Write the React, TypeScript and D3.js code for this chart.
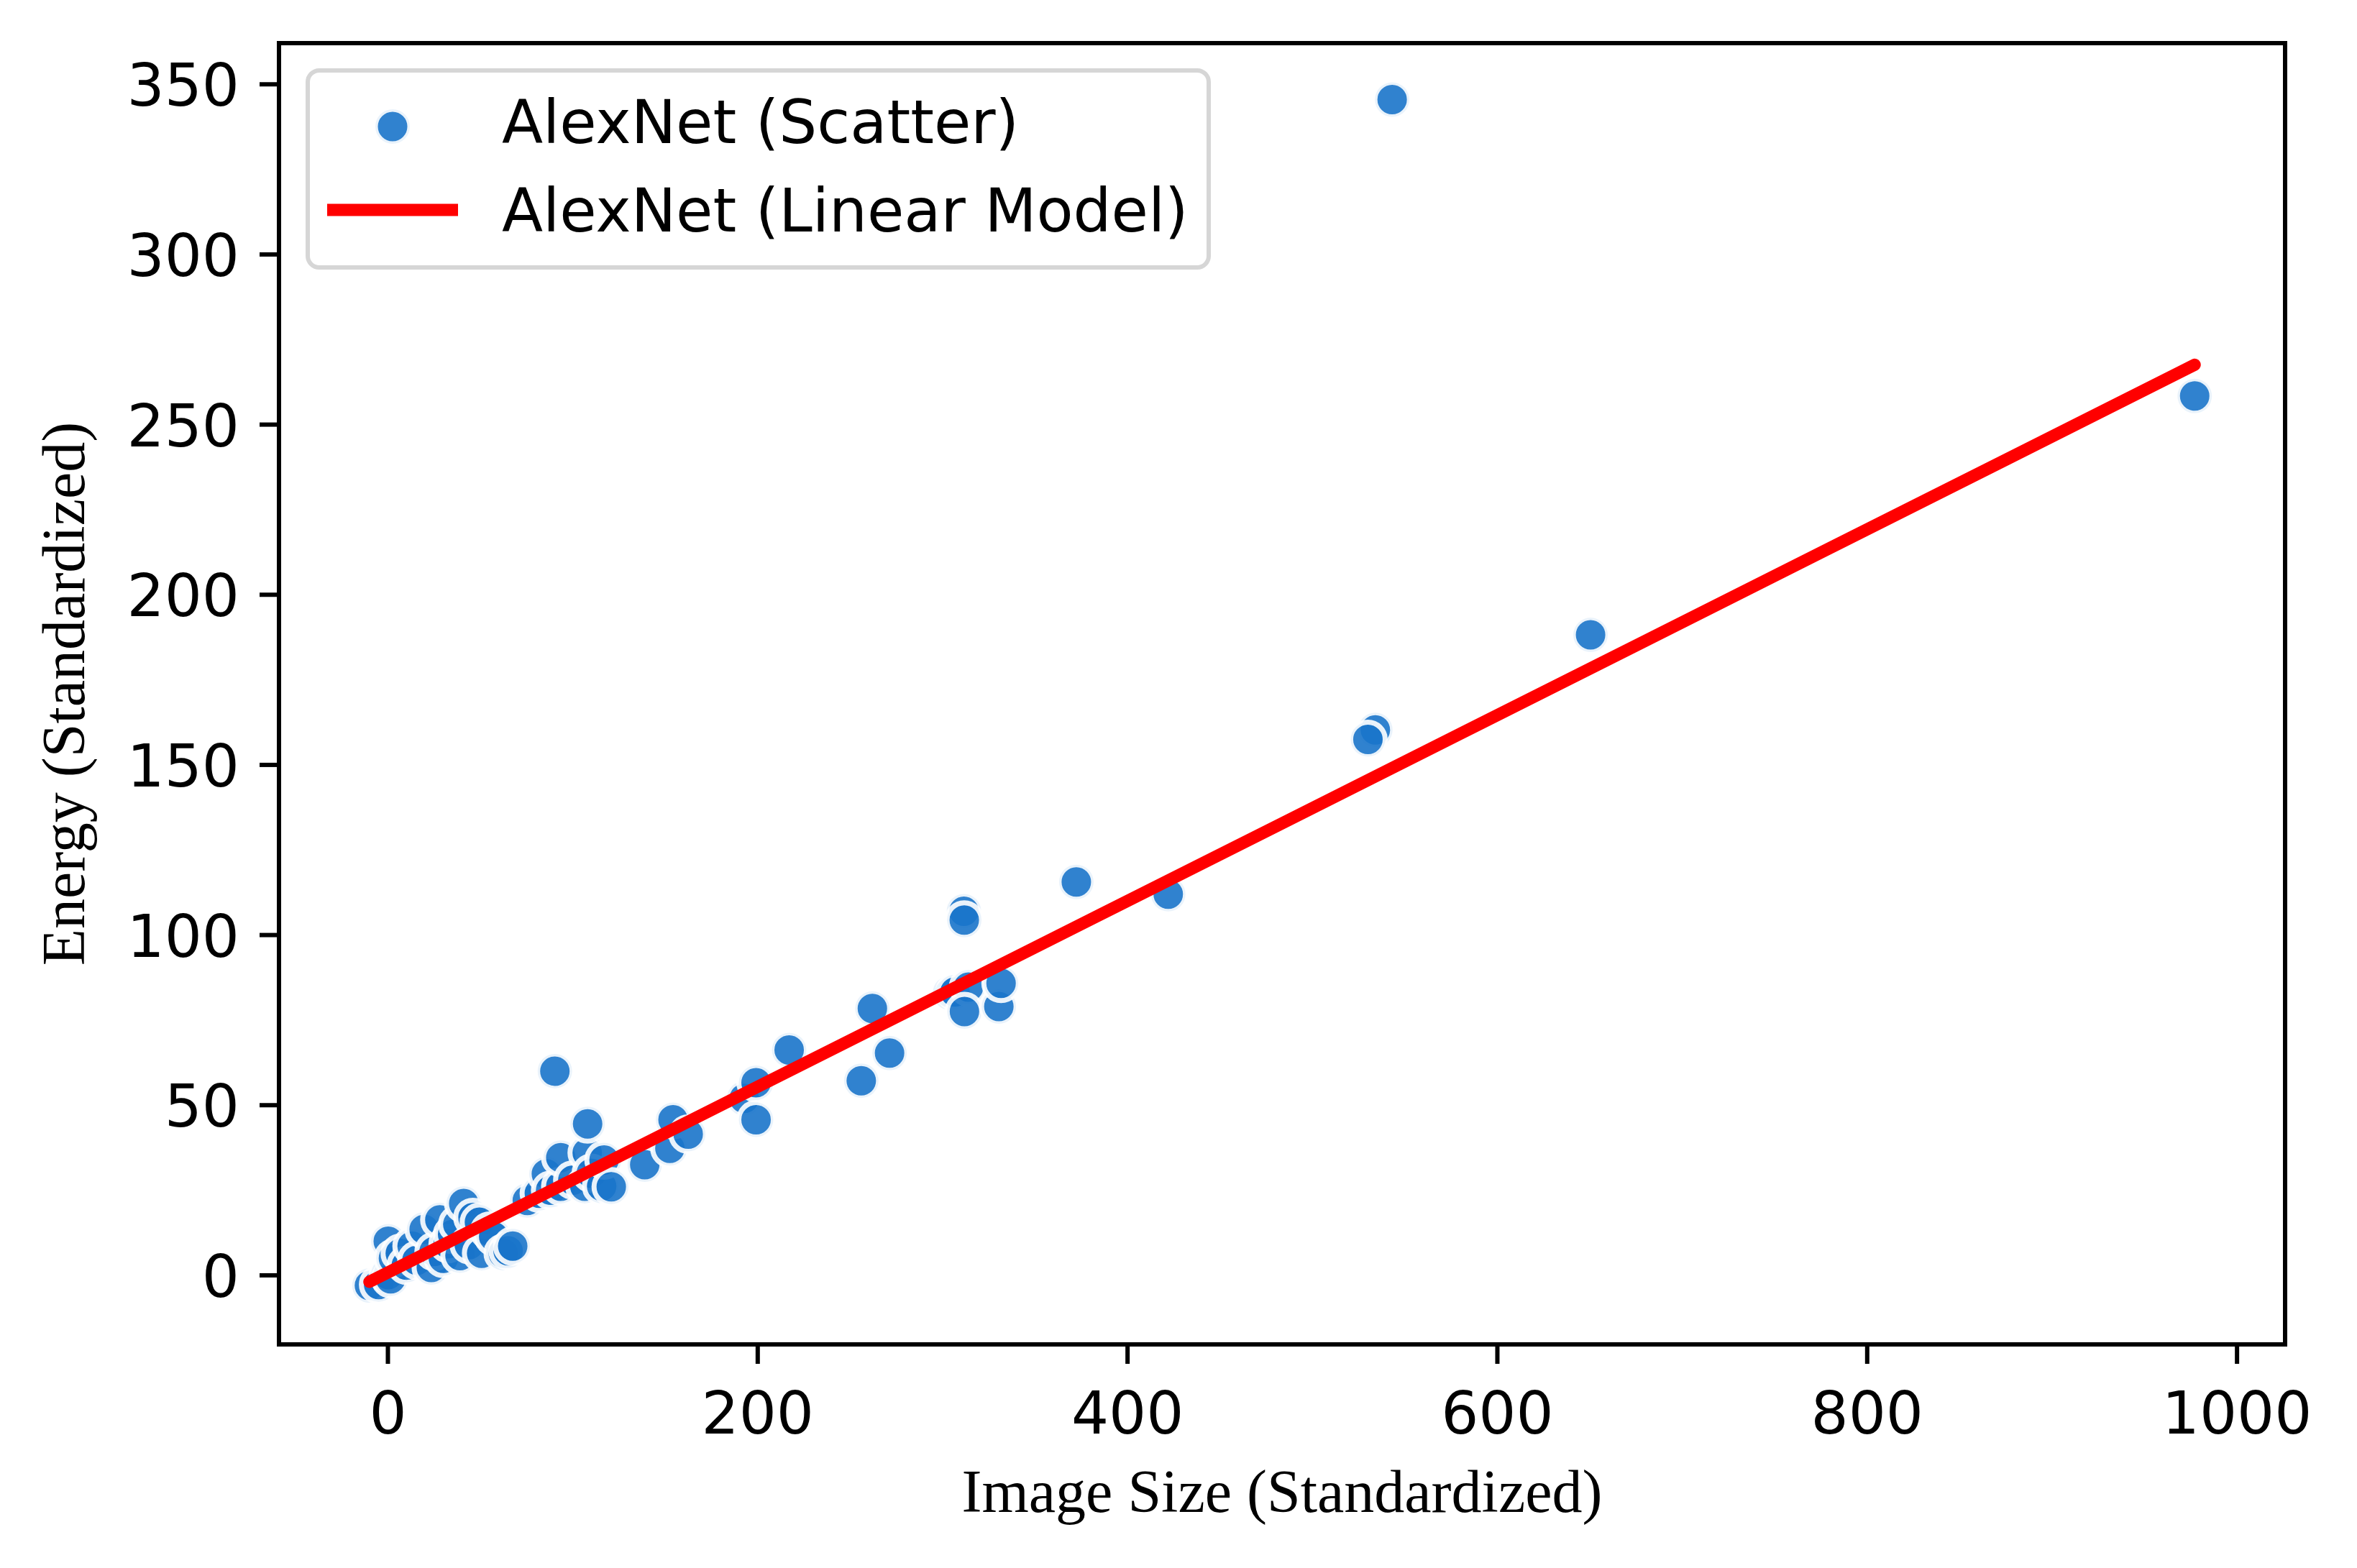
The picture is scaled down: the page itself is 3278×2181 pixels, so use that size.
import { useEffect, useRef } from "react";
import * as d3 from "d3";

// scatter points: [image size, energy]
const scatterX = [
  -10, -5, 0.2, 1.5, 0.2, 3, 6.7, 10, 13.1, 15.7, 19.6, 23.5, 25, 28.1, 30, 32.6, 35, 37.8, 39, 41, 44, 46,
  49.5, 50.7, 55, 57.2, 62.4, 65, 67.5,
  75.4, 81.9, 85.7, 88, 93.5, 93.5, 100, 106.5, 107.8, 110, 115.6, 116.9, 108, 90.3, 120.8, 138.9, 152.5,
  154.2, 162.4,
  192.7, 199.1, 199.1, 217, 256, 262, 271.3, 304, 306.7, 311.5, 311.7, 314, 311.8, 330.4, 331.6, 372.3,
  422, 534, 530, 543.1, 650.4, 977.1,
];
const scatterY = [
  -3, -2.7, 0.2, -1, 10, 5, 6.5, 3, 8.6, 4.4, 13.5, 2.3, 7, 16.3, 5, 9.3, 12, 15, 5.8, 21.1, 9, 17,
  15.6, 6.5, 13, 11.4, 6.5, 7.2, 8.6,
  22, 24.1, 29.8, 25, 26.2, 34.6, 28, 26.2, 36, 30, 26.2, 33.9, 44.5, 60, 26, 32.5, 37.3,
  45.7, 41.5,
  52, 56.6, 45.7, 66.2, 57.2, 78.4, 65.3, 83, 83.3, 107, 104.4, 84.7, 77.5, 79, 85.8, 115.6,
  112, 160.3, 157.5, 345.5, 188.2, 258.4,
];

// fitted linear model
const fitSlope = 0.273;
const fitIntercept = 0.83;
const fitRange = [-10, 977.1];

const xTicks = [0, 200, 400, 600, 800, 1000];
const yTicks = [0, 50, 100, 150, 200, 250, 300, 350];

const legendLabels = ["AlexNet (Scatter)", "AlexNet (Linear Model)"];

const App = () => {
  const chartContainer = useRef(null);

  useEffect(() => {
    const W = 3278;
    const H = 2181;
    const left = 388;
    const right = 3178;
    const top = 60;
    const bottom = 1870;

    const dotFill = "rgb(26,116,202)";
    const tickFont = "'DejaVu Sans', sans-serif";
    const labelFont = "'Liberation Serif', 'Times New Roman', serif";

    const x = d3.scaleLinear().domain([-58.9, 1026.0]).range([left, right]);
    const y = d3.scaleLinear().domain([-20.3, 362.1]).range([bottom, top]);

    d3.select(chartContainer.current).selectAll("*").remove();

    const svg = d3
      .select(chartContainer.current)
      .append("svg")
      .attr("width", W)
      .attr("height", H)
      .style("position", "absolute")
      .style("left", "0px")
      .style("top", "0px")
      .style("background", "#fff");

    svg
      .append("defs")
      .append("clipPath")
      .attr("id", "plot-clip")
      .append("rect")
      .attr("x", left)
      .attr("y", top)
      .attr("width", right - left)
      .attr("height", bottom - top);

    const plot = svg.append("g");

    const points = scatterX.map((v, i) => ({ x: v, y: scatterY[i] }));

    plot
      .append("g")
      .attr("clip-path", "url(#plot-clip)")
      .selectAll("circle")
      .data(points)
      .enter()
      .append("circle")
      .attr("cx", (d) => x(d.x))
      .attr("cy", (d) => y(d.y))
      .attr("r", 24)
      .attr("fill", dotFill)
      .attr("fill-opacity", 0.9)
      .attr("stroke", "#fff")
      .attr("stroke-opacity", 0.9)
      .attr("stroke-width", 7);

    const line = d3
      .line<number>()
      .x((d) => x(d))
      .y((d) => y(fitIntercept + fitSlope * d));

    plot
      .append("path")
      .datum(fitRange)
      .attr("d", line)
      .attr("fill", "none")
      .attr("stroke", "#ff0000")
      .attr("stroke-width", 17)
      .attr("stroke-linecap", "round");

    // spines
    svg
      .append("rect")
      .attr("x", left)
      .attr("y", top)
      .attr("width", right - left)
      .attr("height", bottom - top)
      .attr("fill", "none")
      .attr("stroke", "#000")
      .attr("stroke-width", 6);

    // x ticks
    const xt = svg.append("g").selectAll("g").data(xTicks).enter().append("g");
    xt.append("line")
      .attr("x1", (d) => x(d))
      .attr("x2", (d) => x(d))
      .attr("y1", bottom)
      .attr("y2", bottom + 27)
      .attr("stroke", "#000")
      .attr("stroke-width", 6);
    xt.append("text")
      .attr("x", (d) => x(d))
      .attr("y", 1994)
      .attr("text-anchor", "middle")
      .attr("font-family", tickFont)
      .attr("font-size", 82)
      .text((d) => d);

    // y ticks
    const yt = svg.append("g").selectAll("g").data(yTicks).enter().append("g");
    yt.append("line")
      .attr("x1", left - 27)
      .attr("x2", left)
      .attr("y1", (d) => y(d))
      .attr("y2", (d) => y(d))
      .attr("stroke", "#000")
      .attr("stroke-width", 6);
    yt.append("text")
      .attr("x", 333)
      .attr("y", (d) => y(d) + 30)
      .attr("text-anchor", "end")
      .attr("font-family", tickFont)
      .attr("font-size", 82)
      .text((d) => d);

    // axis labels
    svg
      .append("text")
      .attr("x", (left + right) / 2)
      .attr("y", 2103)
      .attr("text-anchor", "middle")
      .attr("font-family", labelFont)
      .attr("font-size", 84)
      .text("Image Size (Standardized)");

    svg
      .append("text")
      .attr("transform", `translate(117,${(top + bottom) / 2}) rotate(-90)`)
      .attr("text-anchor", "middle")
      .attr("font-family", labelFont)
      .attr("font-size", 84)
      .text("Energy (Standardized)");

    // legend
    const legend = svg.append("g");
    legend
      .append("rect")
      .attr("x", 428)
      .attr("y", 98)
      .attr("width", 1253)
      .attr("height", 274)
      .attr("rx", 16)
      .attr("fill", "#fff")
      .attr("fill-opacity", 0.8)
      .attr("stroke", "#d6d6d6")
      .attr("stroke-width", 6);

    legend
      .append("circle")
      .attr("cx", 546)
      .attr("cy", 176)
      .attr("r", 24)
      .attr("fill", dotFill)
      .attr("fill-opacity", 0.9)
      .attr("stroke", "#fff")
      .attr("stroke-opacity", 0.9)
      .attr("stroke-width", 7);

    legend
      .append("line")
      .attr("x1", 455)
      .attr("x2", 637)
      .attr("y1", 292)
      .attr("y2", 292)
      .attr("stroke", "#ff0000")
      .attr("stroke-width", 17);

    legend
      .selectAll("text")
      .data(legendLabels)
      .enter()
      .append("text")
      .attr("x", 698)
      .attr("y", (_, i) => 199 + i * 123)
      .attr("font-family", tickFont)
      .attr("font-size", 83.5)
      .text((d) => d);
  }, []);

  return <div ref={chartContainer}></div>;
};

export default App;
